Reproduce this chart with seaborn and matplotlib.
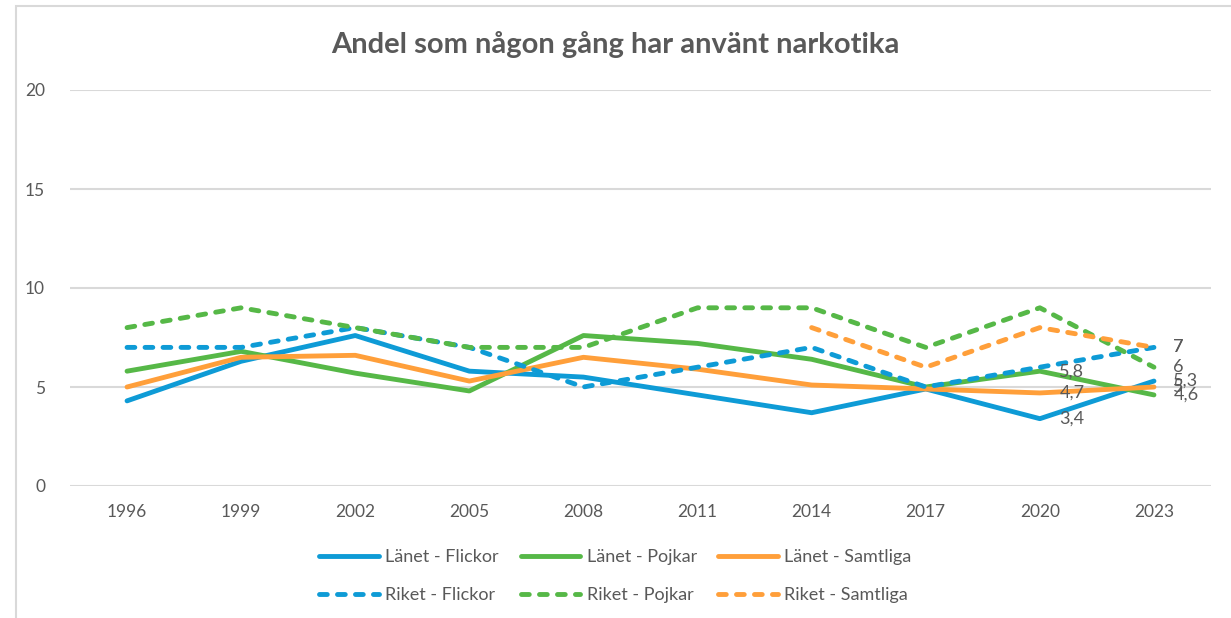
import pandas as pd
import matplotlib.pyplot as plt
import matplotlib.patches as mpatches
import seaborn as sns

# Data
years = ['1996', '1999', '2002', '2005', '2008', '2011', '2014', '2017', '2020', '2023']
lanet_flickor = [4.3, 6.3, 7.6, 5.8, 5.5, 4.6, 3.7, 4.9, 3.4, 5.3]
lanet_pojkar = [5.8, 6.8, 5.7, 4.8, 7.6, 7.2, 6.4, 5.0, 5.8, 4.6]
lanet_samtliga = [5.0, 6.5, 6.6, 5.3, 6.5, 5.9, 5.1, 4.9, 4.7, 5.0]
riket_flickor = [7, 7, 8, 7, 5, 6, 7, 5, 6, 7]
riket_pojkar = [8, 9, 8, 7, 7, 9, 9, 7, 9, 6]
riket_samtliga = [None, None, None, None, None, None, 8, 6, 8, 7]

series_names = ['Länet - Flickor', 'Länet - Pojkar', 'Länet - Samtliga',
                'Riket - Flickor', 'Riket - Pojkar', 'Riket - Samtliga']
series_values = [lanet_flickor, lanet_pojkar, lanet_samtliga,
                 riket_flickor, riket_pojkar, riket_samtliga]

blue = '#0E9BD6'
green = '#56B847'
orange = '#FF9F3A'
colors = dict(zip(series_names, [blue, green, orange, blue, green, orange]))
dashes = dict(zip(series_names, ['', '', '', (1.6, 2.1), (1.6, 2.1), (1.6, 2.1)]))

rows = []
for name, vals in zip(series_names, series_values):
    for yr, v in zip(years, vals):
        rows.append({'år': yr, 'andel': v, 'serie': name})
df = pd.DataFrame(rows).dropna()

sns.set_style('white')
plt.rcParams['font.family'] = ['Lato', 'DejaVu Sans']
text_gray = '#595959'
grid_gray = '#D9D9D9'

fig = plt.figure(figsize=(12.31, 6.18), dpi=100)
ax = fig.add_axes([70 / 1231, 132 / 618, 1141 / 1231, 396 / 618])

# ram runt diagrammet
fig.patches.append(mpatches.Rectangle((16 / 1231, -0.1), 1.2, 1.1 - 6 / 618,
                                      transform=fig.transFigure, fill=False,
                                      edgecolor=grid_gray, linewidth=1.5))

sns.lineplot(data=df, x='år', y='andel', hue='serie', style='serie',
             hue_order=series_names, style_order=series_names,
             palette=colors, dashes=dashes, linewidth=3.5, ax=ax,
             errorbar=None, sort=False,
             solid_capstyle='round', dash_capstyle='round',
             solid_joinstyle='round', dash_joinstyle='round')

ax.set_xlim(-0.5, len(years) - 0.5)
ax.set_ylim(0, 20)
ax.set_yticks([0, 5, 10, 15, 20])
ax.yaxis.grid(True, color=grid_gray, linewidth=1.5)
ax.set_axisbelow(True)
for s in ax.spines.values():
    s.set_visible(False)
ax.tick_params(axis='both', length=0, labelsize=12.5, labelcolor=text_gray)
ax.tick_params(axis='y', pad=18)
ax.tick_params(axis='x', pad=13)
ax.set_xlabel('')
ax.set_ylabel('')

# dataetiketter
def label(idx, val):
    ax.annotate(f'{val:g}'.replace('.', ','), (idx, val), xytext=(14, 0),
                textcoords='offset points', va='center', ha='left',
                fontsize=13, color=text_gray)

i2020 = years.index('2020')
for vals in [lanet_flickor, lanet_pojkar, lanet_samtliga]:
    label(i2020, vals[i2020])
for vals in series_values:
    label(len(years) - 1, vals[-1])

fig.text(0.5, 1 - 44 / 618, 'Andel som någon gång har använt narkotika',
         ha='center', va='center', fontsize=21, fontweight='bold', color=text_gray)

handles, labels = ax.get_legend_handles_labels()
ax.get_legend().remove()
order = [0, 3, 1, 4, 2, 5]
leg = fig.legend([handles[i] for i in order], [labels[i] for i in order],
                 loc='center', bbox_to_anchor=(0.5, 1 - 576 / 618), ncol=3,
                 frameon=False, fontsize=13, handlelength=3.3,
                 handletextpad=0.35, columnspacing=1.2, labelspacing=1.2)
for t in leg.get_texts():
    t.set_color(text_gray)

plt.savefig('out.png', dpi=100)
